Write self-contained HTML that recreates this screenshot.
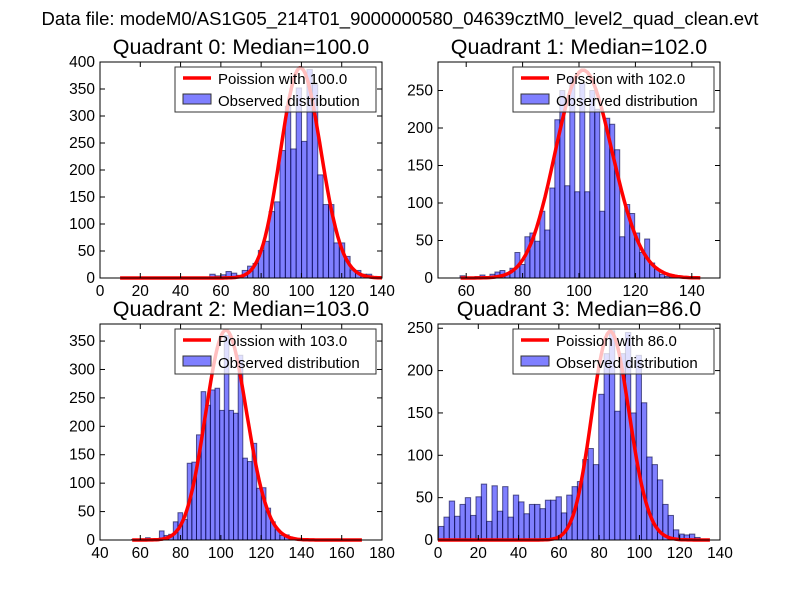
<!DOCTYPE html>
<html><head><meta charset="utf-8"><style>
body{margin:0;background:#fff;}
svg{display:block;font-family:"Liberation Sans",sans-serif;}
</style></head><body>
<svg id="fig" width="800" height="600" viewBox="0 0 800 600">
<rect width="800" height="600" fill="#fff"/>
<text x="400" y="25" font-size="18.5" text-anchor="middle">Data file: modeM0/AS1G05_214T01_9000000580_04639cztM0_level2_quad_clean.evt</text>
</svg>
<script>
// ---- data ----
const q0Counts=[7,4,6,12,9,5,14,22,27,51,68,123,141,236,318,239,352,253,386,358,191,136,136,65,65,40,15,14,7,7];
const q1Counts=[3,1,1,2,4,2,5,8,10,6,13,34,18,55,60,49,89,64,120,211,250,123,268,115,260,115,250,225,89,213,205,171,55,98,86,60,34,52,20,12,5,2,1,2];
const q2Counts=[1,1,2,4,2,1,16,8,10,32,48,36,135,137,185,261,237,264,267,228,360,228,223,325,144,138,170,91,92,56,32,18,8,9,4,2,1];
const q3Counts=[16,27,46,28,42,50,29,51,66,22,64,34,63,27,53,45,31,42,42,37,47,47,51,32,53,63,69,95,108,89,172,220,247,152,220,245,150,218,162,98,89,71,42,29,12,7,6,7,3];
const binStarts=[54.5,57.8,55.7,0.3];
const binWidths=[2.68,1.77,2.3,2.65];
const lambdas=[100,102,103,86];
const curvePeaks=[389,277,369,246];
const curveRanges=[[10,140],[58,143],[56,170],[0,135]];
const medianLabels=["100.0","102.0","103.0","86.0"];
const xTicks=[[0,20,40,60,80,100,120,140],[60,80,100,120,140],[40,60,80,100,120,140,160,180],[0,20,40,60,80,100,120,140]];
const yTicks=[[0,50,100,150,200,250,300,350,400],[0,50,100,150,200,250],[0,50,100,150,200,250,300,350],[0,50,100,150,200,250]];
const xLims=[[0,140],[50,150],[40,180],[0,140]];
const yLims=[[0,400],[0,288],[0,380],[0,255]];
const allCounts=[q0Counts,q1Counts,q2Counts,q3Counts];

const NS="http://www.w3.org/2000/svg";
const svg=document.getElementById('fig');
function mk(tag,attrs,parent){const e=document.createElementNS(NS,tag);for(const k in attrs)e.setAttribute(k,attrs[k]);(parent||svg).appendChild(e);return e;}
function lgamma(x){return (x-0.5)*Math.log(x)-x+0.5*Math.log(2*Math.PI)+1/(12*x)-1/(360*x*x*x);}
function pmfLog(k,l){return k*Math.log(l)-l-lgamma(k+1);}

const boxes=[[100,62,382,278],[438,62,720,278],[100,324,382,540],[438,324,720,540]];
for(let q=0;q<4;q++){
 const [L,T,R,B]=boxes[q];
 const xs=v=>L+(v-xLims[q][0])/(xLims[q][1]-xLims[q][0])*(R-L);
 const ys=v=>B-(v-yLims[q][0])/(yLims[q][1]-yLims[q][0])*(B-T);
 const g=mk('g',{});
 
 
 const clipId='c'+q;
 const cp=mk('clipPath',{id:clipId},g);mk('rect',{x:L,y:T,width:R-L,height:B-T},cp);
 const bars=mk('g',{'clip-path':'url(#'+clipId+')'},g);
 allCounts[q].forEach((c,i)=>{
  const x0=binStarts[q]+i*binWidths[q];
  const r=mk('rect',{x:xs(x0),y:ys(c),width:xs(x0+binWidths[q])-xs(x0),height:ys(0)-ys(c),fill:'rgba(0,0,255,0.5)',stroke:'rgba(0,0,60,0.6)','stroke-width':1},bars);
  
  
 });
 const lam=lambdas[q];const mode=Math.floor(lam);
 const scale=curvePeaks[q]/Math.exp(pmfLog(mode,lam));
 let d='';
 for(let k=curveRanges[q][0];k<=curveRanges[q][1];k++){
  const v=scale*Math.exp(pmfLog(k,lam));
  d+=(d?'L':'M')+xs(k).toFixed(1)+','+ys(v).toFixed(1);
 }
 const p=mk('path',{d:d,fill:'none',stroke:'#ff0000','stroke-width':3.5,'stroke-linejoin':'round'},g);
 
 
 mk('rect',{x:L,y:T,width:R-L,height:B-T,fill:'none',stroke:'#000','stroke-width':1},g);
 xTicks[q].forEach(t=>{const x=xs(t);
  mk('line',{x1:x,x2:x,y1:B,y2:B-5,stroke:'#000'},g);mk('line',{x1:x,x2:x,y1:T,y2:T+5,stroke:'#000'},g);
  const tx=mk('text',{x:x,y:B+18,'font-size':15.5,'text-anchor':'middle'},g);tx.textContent=t;
  
  
 });
 yTicks[q].forEach(t=>{const y=ys(t);
  mk('line',{x1:L,x2:L+5,y1:y,y2:y,stroke:'#000'},g);mk('line',{x1:R,x2:R-5,y1:y,y2:y,stroke:'#000'},g);
  const tx=mk('text',{x:L-5,y:y+5,'font-size':15.5,'text-anchor':'end'},g);tx.textContent=t;
  
  
 });
 const tt=mk('text',{x:(L+R)/2,y:T-8,'font-size':21.5,'text-anchor':'middle'},g);
 tt.textContent='Quadrant '+q+': Median='+medianLabels[q];
 
 
 const lg=mk('g',{},g);
 
 
 const lx=L+75,ly=T+5;
 mk('rect',{x:lx,y:ly,width:201,height:45,fill:'rgba(255,255,255,0.75)',stroke:'#333','stroke-width':1},lg);
 mk('line',{x1:lx+8,x2:lx+36,y1:ly+11,y2:ly+11,stroke:'#ff0000','stroke-width':3.5},lg);
 const t1=mk('text',{x:lx+43,y:ly+17,'font-size':15},lg);t1.textContent='Poission with '+medianLabels[q];
 mk('rect',{x:lx+8,y:ly+27,width:28,height:10,fill:'rgba(0,0,255,0.5)',stroke:'#333'},lg);
 const t2=mk('text',{x:lx+43,y:ly+39,'font-size':15},lg);t2.textContent='Observed distribution';
}
</script>
</body></html>
